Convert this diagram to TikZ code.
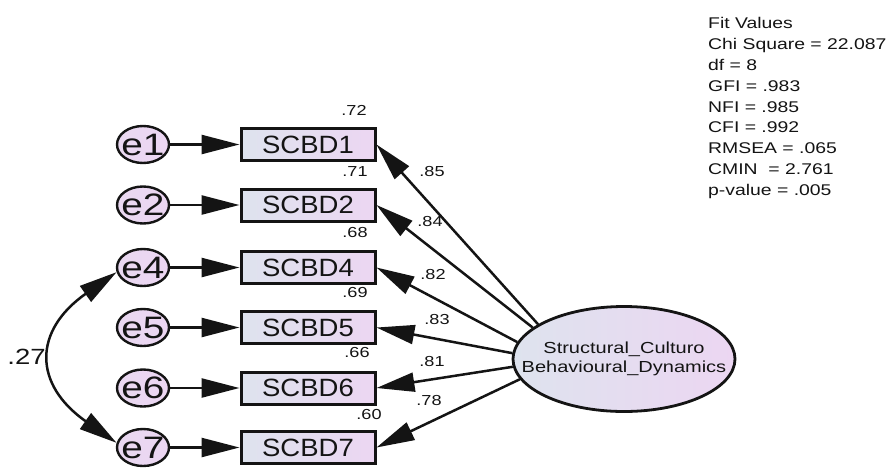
\documentclass[tikz,border=0pt]{standalone}
\usepackage{fontspec}
\setmainfont{Liberation Sans}
\newfontfamily\widesans[FakeStretch=1.25]{Liberation Sans}
\newfontfamily\boxsans[FakeStretch=1.1]{Liberation Sans}
\usetikzlibrary{arrows.meta,shapes.geometric}

\definecolor{shadeL}{HTML}{DEE3EE}
\definecolor{shadeR}{HTML}{ECD6F2}
\definecolor{ink}{HTML}{141414}

\begin{document}
\begin{tikzpicture}[x=1pt,y=1pt,
  indicator/.style={rectangle, draw=ink, line width=3pt,
    minimum width=134pt, minimum height=32pt, inner sep=0pt,
    left color=shadeL, right color=shadeR, text=ink,
    font=\boxsans\fontsize{25}{25}\selectfont},
  errvar/.style={ellipse, draw=ink, line width=2.4pt,
    minimum width=52pt, minimum height=37pt, inner sep=0pt,
    left color=shadeR!80!shadeL, right color=shadeR, text=ink,
    font=\widesans\fontsize{31}{31}\selectfont},
  latent/.style={ellipse, draw=ink, line width=2.8pt,
    minimum width=222pt, minimum height=105pt, inner sep=0pt,
    left color=shadeL, right color=shadeR, text=ink,
    font=\widesans\fontsize{16}{19}\selectfont},
  regpath/.style={draw=ink, line width=2.5pt,
    -{Triangle[length=38pt,width=19pt]}},
  covpath/.style={draw=ink, line width=2.5pt,
    {Triangle[length=38pt,width=19pt]}-{Triangle[length=38pt,width=19pt]}},
  est/.style={text=ink, inner sep=0pt, font=\widesans\fontsize{14.5}{14.5}\selectfont},
  fitlist/.style={text=ink, inner sep=0pt, align=left, anchor=north west,
    font=\widesans\fontsize{15.5}{20.9}\selectfont}
]
% canvas
\fill[white] (0,0) rectangle (893,-469);
\useasboundingbox (0,0) rectangle (893,-469);

% observed indicators
\node[indicator] (b1) at (308,-144.5) {SCBD1};
\node[indicator] (b2) at (308,-205)   {SCBD2};
\node[indicator] (b4) at (308,-267.5) {SCBD4};
\node[indicator] (b5) at (308,-327.5) {SCBD5};
\node[indicator] (b6) at (308,-388)   {SCBD6};
\node[indicator] (b7) at (308,-447.5) {SCBD7};

% error terms
\node[errvar] (e1) at (143,-144.5) {\makebox[0pt]{e1}};
\node[errvar] (e2) at (143,-205)   {\makebox[0pt]{e2}};
\node[errvar] (e4) at (143,-267.5) {\makebox[0pt]{e4}};
\node[errvar] (e5) at (143,-327.5) {\makebox[0pt]{e5}};
\node[errvar] (e6) at (143,-388)   {\makebox[0pt]{e6}};
\node[errvar] (e7) at (143,-447.5) {\makebox[0pt]{e7}};

% latent factor
\node[latent] (lv) at (624,-359)
  {\makebox[0pt]{\begin{tabular}{@{}c@{}}Structural\_Culturo\\Behavioural\_Dynamics\end{tabular}}};

% error paths
\foreach \k in {1,2,4,5,6,7}
  \draw[regpath] (e\k) -- (b\k);

% factor loadings
\draw[regpath] (lv.158) -- (b1.east);
\draw[regpath] (lv.161) -- (b2.east);
\draw[regpath] (lv.171) -- (b4.east);
\draw[regpath] (lv.177) -- (b5.east);
\draw[regpath] (lv.184) -- (b6.east);
\draw[regpath] (lv.191) -- (b7.east);

% error covariance
\draw[covpath] (e4.190) .. controls +(215:102) and +(145:102) .. (e7.170);
\node[est, font=\widesans\fontsize{22}{22}\selectfont] (c47) at (26.5,-357) {.27};

% squared multiple correlations
\node[est] (r1) at (354,-110) {.72};
\node[est] (r2) at (355,-172) {.71};
\node[est] (r4) at (355,-233) {.68};
\node[est] (r5) at (355,-293) {.69};
\node[est] (r6) at (357,-353) {.66};
\node[est] (r7) at (369,-414) {.60};

% standardized loadings
\node[est] (l1) at (432,-172) {.85};
\node[est] (l2) at (430,-222) {.84};
\node[est] (l4) at (433,-275) {.82};
\node[est] (l5) at (437,-320) {.83};
\node[est] (l6) at (432,-362) {.81};
\node[est] (l7) at (429,-400) {.78};

% model fit summary
\node[fitlist] (fit) at (708,-17) {Fit Values\\Chi Square = 22.087\\df = 8\\GFI = .983\\NFI = .985\\CFI = .992\\RMSEA = .065\\CMIN\ \ = 2.761\\p-value = .005};
\end{tikzpicture}
\end{document}
